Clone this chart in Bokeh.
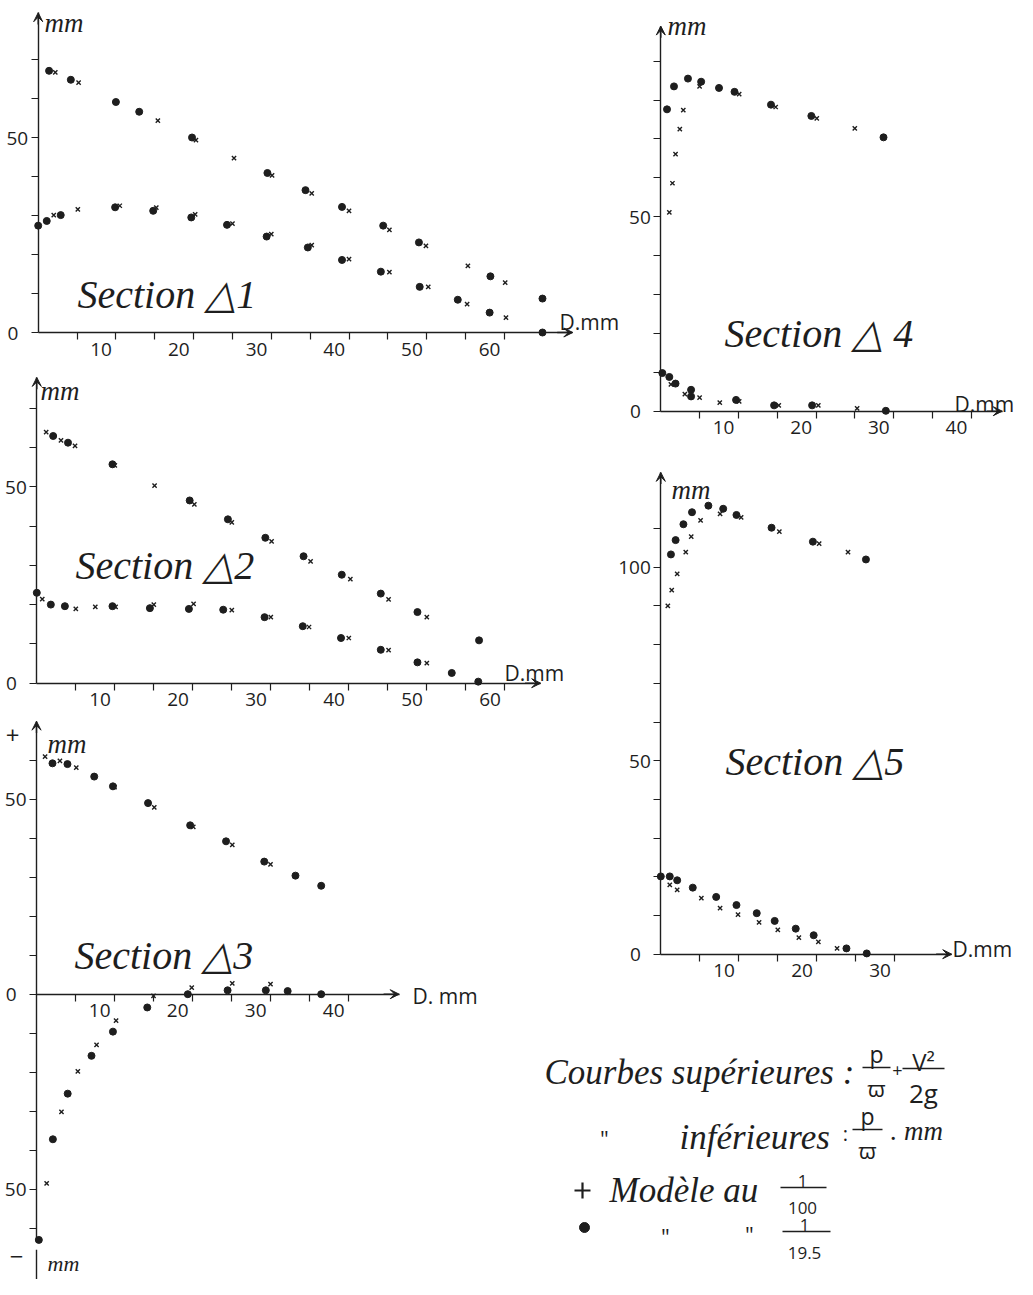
from bokeh.plotting import figure
from bokeh.models import Range1d, FixedTicker, Arrow, VeeHead, LinearAxis
from bokeh.embed import file_html
from bokeh.resources import INLINE
from bokeh.core.properties import value

# ---------------- data (mm) ----------------
# Section 1
s1_up_dot_x = [1.4, 4.2, 10.0, 13.0, 19.8, 29.5, 34.4, 39.1, 44.4, 49.0, 58.2, 64.9]
s1_up_dot_y = [67.1, 64.8, 59.1, 56.6, 50.0, 40.9, 36.5, 32.2, 27.4, 23.1, 14.4, 8.7]
s1_up_crs_x = [2.2, 5.2, 15.4, 20.3, 25.2, 30.1, 35.2, 40.0, 45.2, 49.9, 55.3, 60.1, 64.9]
s1_up_crs_y = [66.7, 64.1, 54.3, 49.3, 44.7, 40.3, 35.7, 31.2, 26.3, 22.2, 17.1, 12.8, 8.7]
s1_lo_dot_x = [0.0, 1.1, 2.9, 9.9, 14.8, 19.7, 24.3, 29.4, 34.7, 39.1, 44.1, 49.1, 54.0, 58.1, 64.9]
s1_lo_dot_y = [27.4, 28.6, 30.1, 32.1, 31.2, 29.5, 27.6, 24.6, 21.8, 18.6, 15.6, 11.7, 8.4, 5.1, 0.0]
s1_lo_crs_x = [0.0, 2.0, 5.1, 10.5, 15.2, 20.2, 25.0, 30.0, 35.2, 40.0, 45.2, 50.2, 55.2, 60.2, 64.9]
s1_lo_crs_y = [27.4, 30.1, 31.6, 32.5, 32.0, 30.3, 27.9, 25.2, 22.4, 18.8, 15.5, 11.7, 7.3, 3.8, 0.0]

# Section 2
s2_up_dot_x = [2.1, 4.0, 9.7, 19.6, 24.5, 29.3, 34.2, 39.1, 44.1, 48.8, 56.7]
s2_up_dot_y = [62.9, 61.2, 55.7, 46.5, 41.7, 37.0, 32.3, 27.6, 22.8, 18.1, 10.9]
s2_up_crs_x = [1.2, 3.1, 4.9, 10.0, 15.1, 20.2, 25.0, 30.1, 35.1, 40.2, 45.1, 50.0, 56.7]
s2_up_crs_y = [63.9, 61.8, 60.4, 55.4, 50.3, 45.5, 40.9, 36.1, 31.0, 26.5, 21.3, 16.8, 10.9]
s2_lo_dot_x = [0.0, 1.8, 3.6, 9.7, 14.5, 19.5, 23.9, 29.2, 34.1, 39.0, 44.1, 48.8, 53.2, 56.6]
s2_lo_dot_y = [23.0, 20.0, 19.6, 19.6, 19.1, 18.9, 18.7, 16.8, 14.5, 11.5, 8.5, 5.3, 2.6, 0.4]
s2_lo_crs_x = [0.7, 5.0, 7.5, 10.1, 15.0, 20.1, 25.0, 30.0, 34.9, 40.0, 45.1, 50.0, 56.6]
s2_lo_crs_y = [21.4, 18.9, 19.4, 19.4, 20.0, 20.2, 18.6, 16.8, 14.3, 11.5, 8.4, 5.1, 0.4]

# Section 3
s3_up_dot_x = [2.05, 3.97, 7.4, 9.8, 14.3, 19.7, 24.3, 29.2, 33.2, 36.5]
s3_up_dot_y = [59.2, 59.0, 55.8, 53.3, 49.0, 43.3, 39.2, 34.0, 30.4, 27.8]
s3_up_crs_x = [1.1, 3.0, 5.1, 10.0, 15.1, 20.1, 25.1, 30.0, 36.5]
s3_up_crs_y = [60.9, 59.8, 58.1, 53.1, 47.9, 42.9, 38.3, 33.3, 27.8]
s3_lo_dot_x = [0.3, 2.1, 4.0, 7.05, 9.8, 14.2, 19.4, 24.5, 29.4, 32.2, 36.5]
s3_lo_dot_y = [-63.0, -37.2, -25.5, -15.8, -9.6, -3.4, 0.0, 1.0, 1.0, 0.8, 0.0]
s3_lo_crs_x = [0.3, 1.3, 3.2, 5.3, 7.7, 10.2, 15.0, 19.9, 25.1, 30.0, 36.5]
s3_lo_crs_y = [-63.0, -48.5, -30.2, -19.8, -13.0, -6.8, -0.4, 1.7, 2.8, 2.6, 0.0]

# Section 4
s4_up_dot_x = [0.8, 1.7, 3.5, 5.2, 7.5, 9.5, 14.2, 19.4, 28.7]
s4_up_dot_y = [77.6, 83.5, 85.5, 84.7, 83.1, 82.1, 78.8, 75.9, 70.4]
s4_up_crs_x = [1.1, 1.5, 1.9, 2.45, 2.9, 5.0, 10.1, 14.8, 20.1, 25.0, 28.7]
s4_up_crs_y = [51.1, 58.6, 66.1, 72.5, 77.4, 83.5, 81.5, 78.2, 75.3, 72.7, 70.4]
s4_lo_dot_x = [0.2, 1.1, 1.9, 3.9, 3.9, 9.7, 14.6, 19.5, 29.0]
s4_lo_dot_y = [9.8, 8.8, 7.1, 5.5, 3.8, 2.9, 1.5, 1.5, 0.1]
s4_lo_crs_x = [0.2, 1.3, 3.1, 5.0, 7.6, 10.1, 15.2, 20.3, 25.3, 29.0]
s4_lo_crs_y = [9.8, 6.9, 4.4, 3.5, 2.2, 2.5, 1.5, 1.5, 0.7, 0.1]

# Section 5
s5_up_dot_x = [1.3, 1.9, 2.9, 4.0, 6.1, 8.0, 9.7, 14.2, 19.5, 26.3]
s5_up_dot_y = [103.3, 107.0, 111.1, 114.2, 115.9, 115.1, 113.5, 110.2, 106.6, 102.0]
s5_up_crs_x = [0.9, 1.4, 2.1, 3.2, 3.9, 5.1, 7.6, 10.3, 15.2, 20.3, 24.0, 26.3]
s5_up_crs_y = [90.0, 94.1, 98.3, 103.9, 107.9, 112.1, 113.8, 112.9, 109.2, 106.1, 103.9, 102.0]
s5_lo_dot_x = [0.0, 1.15, 2.1, 4.1, 7.1, 9.7, 12.3, 14.6, 17.3, 19.6, 23.8, 26.4]
s5_lo_dot_y = [20.1, 20.1, 19.1, 17.2, 14.8, 12.7, 10.6, 8.6, 6.6, 4.9, 1.5, 0.2]
s5_lo_crs_x = [0.0, 1.15, 2.1, 5.2, 7.6, 9.9, 12.6, 15.0, 17.7, 20.2, 22.6, 26.4]
s5_lo_crs_y = [20.1, 17.9, 16.6, 14.5, 11.9, 10.2, 8.2, 6.3, 4.3, 3.2, 1.5, 0.2]

# ticks
s1_xticks = [5, 10, 15, 20, 25, 30, 35, 40, 45, 50, 55, 60]
s1_yticks = [0, 10, 20, 30, 40, 50, 60, 70]
s2_xticks = [5, 10, 15, 20, 25, 30, 35, 40, 45, 50, 55, 60]
s2_yticks = [0, 10, 20, 30, 40, 50, 60, 70]
s3_xticks = [5, 10, 15, 20, 25, 30, 35, 40]
s3_yticks = [-60, -50, -40, -30, -20, -10, 0, 10, 20, 30, 40, 50, 60]
s4_xticks = [5, 10, 15, 20, 25, 30, 35, 40]
s4_yticks = [0, 10, 20, 30, 40, 50, 60, 70, 80, 90]
s5_xticks = [5, 10, 15, 20, 25, 30]
s5_yticks = [0, 10, 20, 30, 40, 50, 60, 70, 80, 90, 100, 110]
s1_ylabels = {0: "0", 50: "50"}
s2_ylabels = {0: "0", 50: "50"}
s3_ylabels = {0: "0", 50: "50", -50: "50"}
s4_ylabels = {0: "0", 50: "50"}
s5_ylabels = {0: "0", 50: "50", 100: "100"}

# ---------------- layout / style ----------------
INK = "#1e1e1e"
SANS = "Open Sans"
SERIF = "Liberation Serif"
NB = "\u00a0"
M = 8
W, H = 1017, 1279

# screen-pixel origin of each section and px per mm (x, y)
GEOM = {
    1: (45.7, 340.0, 7.77, 3.90),
    2: (44.3, 690.7, 7.80, 3.93),
    3: (44.0, 1001.7, 7.80, 3.90),
    4: (668.3, 418.7, 7.76, 3.89),
    5: (668.3, 961.7, 7.80, 3.87),
}

p = figure(width=W, height=H, x_range=Range1d(0, W), y_range=Range1d(H, 0),
           x_axis_type=None, y_axis_type=None, toolbar_location=None,
           output_backend="svg", min_border=0, outline_line_color=None,
           background_fill_color="white", border_fill_color="white")

for k, (ox, oy, sx, sy) in GEOM.items():
    p.extra_x_ranges[f"x{k}"] = Range1d((M - ox) / sx, (M + W - ox) / sx)
    p.extra_y_ranges[f"y{k}"] = Range1d((oy - (M + H)) / sy, (oy - M) / sy)


def style(ax):
    ax.axis_line_color = INK
    ax.axis_line_width = 1.4
    ax.major_tick_line_color = INK
    ax.major_tick_line_width = 1.2
    ax.major_tick_out = 7
    ax.major_tick_in = 0
    ax.minor_tick_line_color = None
    ax.major_label_text_font = SANS
    ax.major_label_text_font_size = "19px"
    ax.major_label_text_color = INK


def panel(k, xt, yt, ylab, xend, ybot, ytop):
    xn, yn = f"x{k}", f"y{k}"
    xa = LinearAxis(x_range_name=xn, y_range_name=yn, fixed_location=0,
                    bounds=(0, xend), ticker=FixedTicker(ticks=xt, minor_ticks=[]),
                    major_label_overrides={t: (f"{t}" + NB * 6 if t % 10 == 0 else "") for t in xt})
    style(xa)
    xa.major_label_standoff = -4
    p.add_layout(xa, "below")
    ya = LinearAxis(x_range_name=xn, y_range_name=yn, fixed_location=0,
                    bounds=(ybot, ytop), ticker=FixedTicker(ticks=yt, minor_ticks=[]),
                    major_label_overrides={t: (ylab[t] + (NB * 2 if t == 0 else "") if t in ylab else "") for t in yt})
    style(ya)
    ya.major_label_standoff = 3
    p.add_layout(ya, "left")
    head = dict(size=9, line_color=INK, fill_color=INK, line_width=1)
    p.add_layout(Arrow(end=VeeHead(**head), x_start=0, y_start=ytop - 3, x_end=0, y_end=ytop,
                       line_color=INK, line_width=1.4, x_range_name=xn, y_range_name=yn))
    p.add_layout(Arrow(end=VeeHead(**head), x_start=xend - 2, y_start=0, x_end=xend, y_end=0,
                       line_color=INK, line_width=1.4, x_range_name=xn, y_range_name=yn))


def pts(k, x, y, kind):
    kw = dict(x_range_name=f"x{k}", y_range_name=f"y{k}")
    if kind == "dot":
        p.scatter(x, y, marker="circle", size=7, fill_color=INK, line_color=INK, **kw)
    else:
        p.scatter(x, y, marker="x", size=6, line_color=INK, line_width=1.4, **kw)


panel(1, s1_xticks, s1_yticks, s1_ylabels, 68.8, 0, 82.0)
panel(2, s2_xticks, s2_yticks, s2_ylabels, 64.6, 0, 77.8)
panel(3, s3_xticks, s3_yticks, s3_ylabels, 46.5, -63.5, 70.0)
panel(4, s4_xticks, s4_yticks, s4_ylabels, 44.0, 0, 99.0)
panel(5, s5_xticks, s5_yticks, s5_ylabels, 37.3, 0, 124.5)

# lower stub of section 3 negative axis
p.segment(x0=[0], y0=[-65.5], x1=[0], y1=[-74], line_color=INK, line_width=1.4,
          x_range_name="x3", y_range_name="y3")

for k, series in {
    1: [(s1_up_dot_x, s1_up_dot_y, "dot"), (s1_up_crs_x, s1_up_crs_y, "x"),
        (s1_lo_dot_x, s1_lo_dot_y, "dot"), (s1_lo_crs_x, s1_lo_crs_y, "x")],
    2: [(s2_up_dot_x, s2_up_dot_y, "dot"), (s2_up_crs_x, s2_up_crs_y, "x"),
        (s2_lo_dot_x, s2_lo_dot_y, "dot"), (s2_lo_crs_x, s2_lo_crs_y, "x")],
    3: [(s3_up_dot_x, s3_up_dot_y, "dot"), (s3_up_crs_x, s3_up_crs_y, "x"),
        (s3_lo_dot_x, s3_lo_dot_y, "dot"), (s3_lo_crs_x, s3_lo_crs_y, "x")],
    4: [(s4_up_dot_x, s4_up_dot_y, "dot"), (s4_up_crs_x, s4_up_crs_y, "x"),
        (s4_lo_dot_x, s4_lo_dot_y, "dot"), (s4_lo_crs_x, s4_lo_crs_y, "x")],
    5: [(s5_up_dot_x, s5_up_dot_y, "dot"), (s5_up_crs_x, s5_up_crs_y, "x"),
        (s5_lo_dot_x, s5_lo_dot_y, "dot"), (s5_lo_crs_x, s5_lo_crs_y, "x")],
}.items():
    for xs, ys, kind in series:
        pts(k, xs, ys, kind)


# ---------------- texts (screen px -> canvas px) ----------------
def txt(x, y, s, font=SERIF, size="28px", style="italic", align="left", baseline="alphabetic"):
    p.text(x=[x - M], y=[y - M], text=[s], text_font=value(font), text_font_size=value(size),
           text_font_style=style, text_align=align, text_baseline=baseline, text_color=INK)


# section titles
txt(85, 302, "Section \u25B31", size="40px")
txt(83, 573, "Section \u25B32", size="40px")
txt(82, 963, "Section \u25B33", size="40px")
txt(732, 341, "Section \u25B3 4", size="40px")
txt(733, 769, "Section \u25B35", size="40px")

# axis units
for (x, y) in [(52, 30), (48, 398), (55, 751), (675, 33), (679, 497)]:
    txt(x, y, "mm", size="27px")
txt(55, 1271, "mm", size="22px")
txt(567, 329, "D.mm", font=SANS, size="21px", style="normal")
txt(512, 680, "D.mm", font=SANS, size="21px", style="normal")
txt(420, 1003, "D. mm", font=SANS, size="21px", style="normal")
txt(962, 411, "D.mm", font=SANS, size="21px", style="normal")
txt(960, 956, "D.mm", font=SANS, size="21px", style="normal")
txt(20, 743, "+", font=SANS, size="24px", style="normal", align="center", baseline="middle")
txt(24, 1264, "\u2212", font=SANS, size="24px", style="normal", align="center", baseline="middle")

# legend
txt(552, 1080, "Courbes supérieures :", size="35px")
txt(884, 1061, "p", font=SANS, size="23px", style="normal", align="center")
txt(884, 1095, "\u03D6", font=SANS, size="22px", style="normal", align="center")
txt(905, 1078, "+", font=SANS, size="18px", style="normal", align="center", baseline="middle")
txt(931, 1069, "V\u00B2", font=SANS, size="24px", style="normal", align="center")
txt(931, 1100, "2g", font=SANS, size="26px", style="normal", align="center")
txt(612, 1145, "\"", font=SANS, size="22px", style="normal", align="center")
txt(687, 1145, "inférieures", size="35px")
txt(853, 1141, ":", font=SANS, size="20px", style="normal", align="center")
txt(875, 1123, "p", font=SANS, size="23px", style="normal", align="center")
txt(875, 1157, "\u03D6", font=SANS, size="22px", style="normal", align="center")
txt(898, 1138, ". mm", size="27px")
txt(617, 1198, "Modèle au", size="35px")
txt(810, 1188, "1", font=SANS, size="17px", style="normal", align="center")
txt(810, 1215, "100", font=SANS, size="17px", style="normal", align="center")
txt(673, 1243, "\"", font=SANS, size="22px", style="normal", align="center")
txt(757, 1241, "\"", font=SANS, size="22px", style="normal", align="center")
txt(812, 1232, "1", font=SANS, size="17px", style="normal", align="center")
txt(812, 1260, "19.5", font=SANS, size="17px", style="normal", align="center")

bars = dict(x0=[870 - M, 910 - M, 860 - M, 788 - M, 790 - M],
            y0=[1075 - M, 1076 - M, 1137 - M, 1195 - M, 1239 - M],
            x1=[898 - M, 952 - M, 890 - M, 834 - M, 838 - M],
            y1=[1075 - M, 1076 - M, 1137 - M, 1195 - M, 1239 - M])
p.segment(line_color=INK, line_width=1.5, **bars)
p.scatter([590 - M], [1198 - M], marker="cross", size=16, line_color=INK, line_width=2.2)
p.scatter([592 - M], [1235 - M], marker="circle", size=10, fill_color=INK, line_color=INK)

open("out.html", "w").write(file_html(p, INLINE))
